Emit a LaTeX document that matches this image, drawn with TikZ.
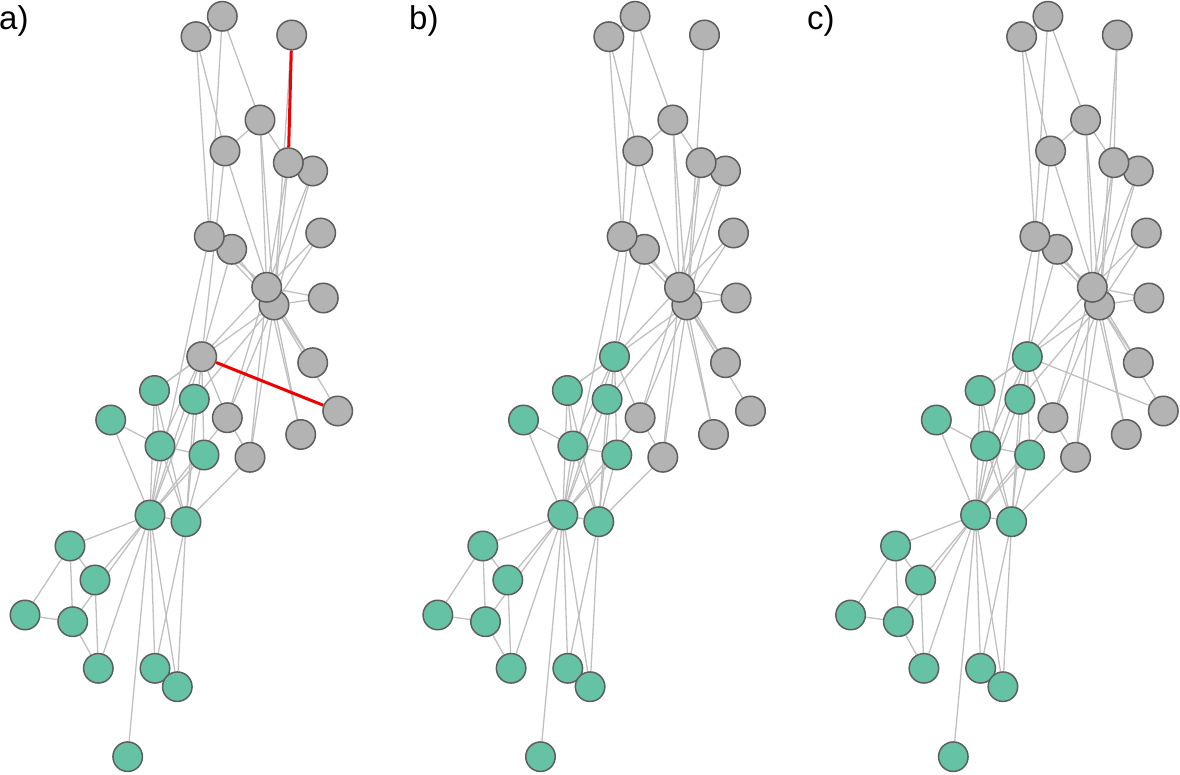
\documentclass[tikz,border=0pt]{standalone}
\usepackage{fontspec}
\setmainfont{Liberation Sans}
\pgfdeclarelayer{bg}
\pgfsetlayers{bg,main}
\definecolor{kgreen}{HTML}{66C2A5}
\definecolor{kgrey}{HTML}{B3B3B3}
\definecolor{kborder}{HTML}{5E5E5E}
\definecolor{kedge}{HTML}{C0C0C0}
\definecolor{kred}{HTML}{F00000}
\tikzset{
  vtx/.style={circle, draw=kborder, line width=1.5pt, minimum size=29.5pt, inner sep=0pt},
  lnk/.style={draw=kedge, line width=1.3pt},
  cutlink/.style={draw=kred, line width=3pt},
  lbl/.style={font=\fontsize{33}{33}\selectfont, anchor=north west, inner sep=0pt}
}
\begin{document}
\begin{tikzpicture}[x=1pt,y=-1pt]
\useasboundingbox (0,0) rectangle (1180,775);
\foreach \p/\sx/\cthree in {a/0/kgrey, b/412.8/kgreen, c/825.6/kgreen}{
  \begin{scope}[xshift=\sx pt]
  \foreach \i/\x/\y/\c in {
    1/150/515/kgreen, 2/186/521.7/kgreen, 3/201.7/356.7/\cthree, 4/160/446/kgreen,
    5/98.3/668.3/kgreen, 6/70/546/kgreen, 7/72.7/621.7/kgreen, 8/204/455/kgreen,
    9/227.3/417.7/kgrey, 10/337.7/411/kgrey, 11/95/580/kgreen, 12/127.7/756.7/kgreen,
    13/110.7/420/kgreen, 14/154.5/390.5/kgreen, 15/312.7/171/kgrey, 16/320.7/233/kgrey,
    17/25/615/kgreen, 18/155/668.3/kgreen, 19/323.3/298/kgrey, 20/194.3/399.3/kgreen,
    21/312.7/362.7/kgrey, 22/177.3/686.7/kgreen, 23/300.7/434.5/kgrey, 24/260/120/kgrey,
    25/196/36.7/kgrey, 26/222.3/16.3/kgrey, 27/291.7/35/kgrey, 28/225/151/kgrey,
    29/231.7/249.3/kgrey, 30/288.3/162.7/kgrey, 31/250/457.3/kgrey, 32/209.3/236.5/kgrey,
    34/274/305/kgrey, 33/266.7/287.3/kgrey}{
    \node[vtx, fill=\c] (\p\i) at (\x,\y) {};
  }
  \begin{pgfonlayer}{bg}
  \foreach \u/\v in {1/2,1/3,1/4,1/5,1/6,1/7,1/8,1/9,1/11,1/12,1/13,1/14,1/18,1/20,1/22,1/32,
    2/3,2/4,2/8,2/14,2/18,2/20,2/22,2/31,
    3/4,3/8,3/9,3/14,3/28,3/29,3/33,
    4/8,4/13,4/14,5/7,5/11,6/7,6/11,6/17,7/17,
    9/31,9/33,9/34,10/34,14/34,
    15/33,15/34,16/33,16/34,19/33,19/34,20/34,21/33,21/34,23/33,23/34,
    24/26,24/28,24/30,24/33,24/34,25/26,25/28,25/32,26/32,
    27/34,28/34,29/32,29/34,30/33,30/34,31/33,31/34,32/33,32/34,33/34}{
    \draw[lnk] (\p\u) -- (\p\v);
  }
  \end{pgfonlayer}
  \end{scope}
}
\begin{pgfonlayer}{bg}
\draw[cutlink] (a3) -- (a10);
\draw[cutlink] (a27) -- (a30);
\draw[lnk] (c3) -- (c10);
\draw[lnk] (c27) -- (c30);
\end{pgfonlayer}
\node[lbl] (la) at (-1,5) {a)};
\node[lbl] (lb) at (409,5) {b)};
\node[lbl] (lc) at (807,5) {c)};
\end{tikzpicture}
\end{document}
